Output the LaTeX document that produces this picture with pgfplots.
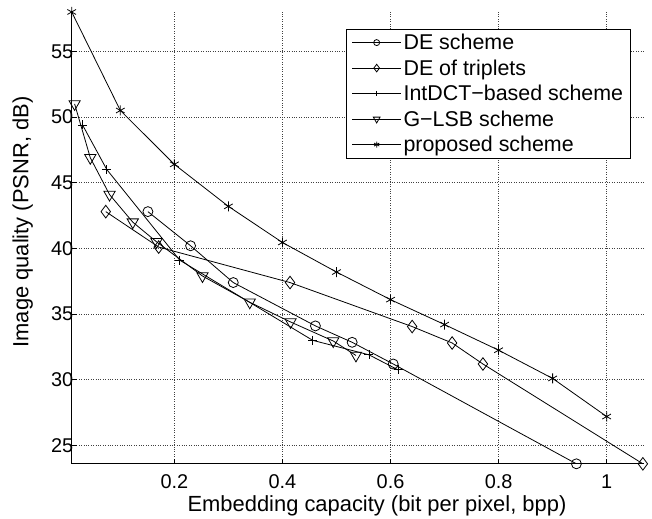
\documentclass[border=0pt]{standalone}
\usepackage{fontspec}
\setmainfont{Liberation Sans}
\usepackage{pgfplots}
\pgfplotsset{compat=1.18}

\begin{document}
\begin{tikzpicture}
\begin{axis}[
  scale only axis,
  width=573bp, height=452bp,
  xmin=0.01, xmax=1.07,
  ymin=23.6, ymax=58,
  axis x line*=bottom, axis y line*=left,
  axis line style={line width=1bp},
  xtick={0.2,0.4,0.6,0.8,1},
  xticklabels={0.2,0.4,0.6,0.8,1},
  ytick={25,30,35,40,45,50,55},
  tick align=inside,
  major tick length=5bp,
  tick style={black, line width=0.8bp},
  grid=major,
  major grid style={dotted, line width=0.7bp, black!75},
  /pgf/number format/assume math mode=true,
  ticklabel style={font=\fontsize{20}{24}\selectfont},
  xticklabel style={yshift=-7bp},
  yticklabel style={xshift=5bp},
  label style={font=\fontsize{22}{26}\selectfont, inner sep=0pt},
  xlabel={Embedding capacity (bit per pixel, bpp)},
  ylabel={Image quality (PSNR, dB)},
  xlabel style={at={(axis description cs:0.533,-0.106)}, anchor=base},
  ylabel style={at={(axis description cs:-0.0675,0.535)}, anchor=south},
  legend style={at={(axis description cs:0.9756,0.963)}, anchor=north east,
    draw=black, line width=0.8bp, fill=white,
    font=\fontsize{21.5}{25}\selectfont,
    inner xsep=5bp, inner ysep=3bp, row sep=4.5bp,
    cells={anchor=west}},
  legend image code/.code={%
    \draw[mark repeat=2,mark phase=2,every mark/.append style={scale=0.6}]
      plot coordinates {(0bp,0bp) (24.5bp,0bp) (49bp,0bp)};},
  every axis plot/.append style={line width=0.8bp},
]
% DE scheme
\addplot[black, mark=o, mark size=5bp, mark options={solid}] coordinates {
  (0.151,42.8) (0.230,40.2) (0.309,37.4) (0.461,34.1) (0.529,32.85) (0.605,31.2) (0.944,23.6)};
\addlegendentry{DE scheme}
% DE of triplets
\addplot[black, mark=diamond, mark size=6.3bp, mark options={solid}] coordinates {
  (0.073,42.8) (0.171,40.1) (0.414,37.4) (0.640,34.05) (0.714,32.8) (0.771,31.2) (1.067,23.6)};
\addlegendentry{DE of triplets}
% IntDCT-based scheme
\addplot[black, mark=+, mark size=4.5bp, mark options={solid}] coordinates {
  (0.030,49.4) (0.075,46.0) (0.210,39.1) (0.456,33.0) (0.560,31.9) (0.614,30.75)};
\addlegendentry{IntDCT\textminus based scheme}
% G-LSB scheme
\addplot[black, mark=triangle, mark size=6.5bp, mark options={solid, rotate=180}] coordinates {
  (0.0154,51.0) (0.0444,46.9) (0.080,44.1) (0.123,42.0) (0.167,40.5) (0.252,37.9)
  (0.3395,35.9) (0.415,34.4) (0.494,32.95) (0.536,31.85)};
\addlegendentry{G\textminus LSB scheme}
% proposed scheme
\addplot[black, mark=asterisk, mark size=5bp, mark options={solid}] coordinates {
  (0.01,58) (0.1,50.5) (0.2,46.4) (0.3,43.2) (0.4,40.45) (0.5,38.2) (0.6,36.1)
  (0.7,34.2) (0.8,32.25) (0.9,30.1) (1.0,27.2)};
\addlegendentry{proposed scheme}
\coordinate (bl) at (axis description cs:-0.1252,-0.1217);
\coordinate (tr) at (axis description cs:1.0131,1.0265);
\end{axis}
\pgfresetboundingbox
\path[use as bounding box] (bl) rectangle (tr);
\end{tikzpicture}
\end{document}
